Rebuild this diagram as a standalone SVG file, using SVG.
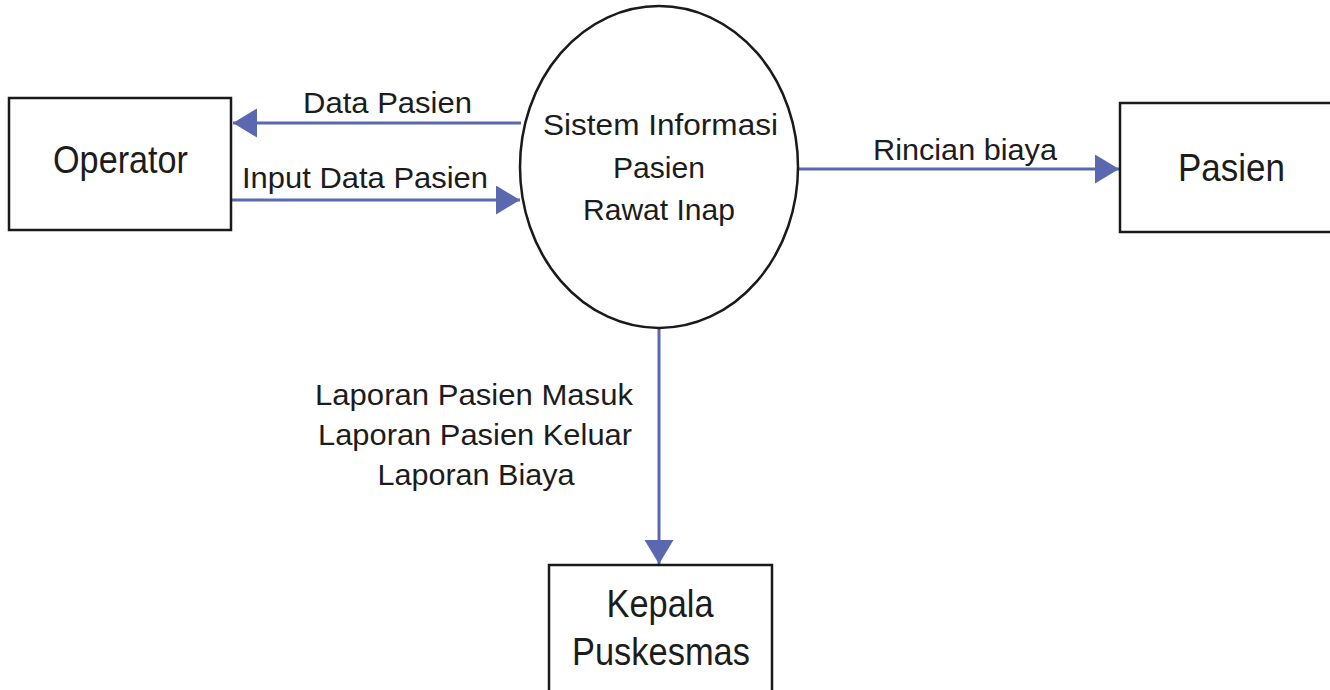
<svg xmlns="http://www.w3.org/2000/svg" width="1330" height="690" viewBox="0 0 1330 690">
  <style>
    .box { fill: #fff; stroke: #1a1a1a; stroke-width: 2.5; }
    .proc { fill: #fff; stroke: #1a1a1a; stroke-width: 2.5; }
    .flow { fill: none; stroke: #5a68b0; stroke-width: 3; }
    .t { font-family: "Liberation Sans", Arial, sans-serif; fill: #1c1c1c; text-anchor: middle; }
    .ent { font-size: 39px; }
    .pt { font-size: 30px; }
    .lbl { font-size: 30px; }
    .lap { font-size: 29px; }
  </style>
  <defs>
    <marker id="arr" markerUnits="userSpaceOnUse" markerWidth="26" markerHeight="30" refX="24" refY="14.5" orient="auto">
      <path d="M0,0 L24,14.5 L0,29 Z" fill="#5a68b0"/>
    </marker>
  </defs>
  <rect width="1330" height="690" fill="#fff"/>

  <g id="connectors">
    <line class="flow" x1="521" y1="123" x2="233" y2="123" marker-end="url(#arr)"/>
    <line class="flow" x1="231" y1="200" x2="520" y2="200" marker-end="url(#arr)"/>
    <line class="flow" x1="798" y1="169" x2="1119" y2="169" marker-end="url(#arr)"/>
    <line class="flow" x1="659" y1="328" x2="659" y2="564" marker-end="url(#arr)"/>
    <text class="t lbl" x="387.5" y="113" textLength="169" lengthAdjust="spacingAndGlyphs">Data Pasien</text>
    <text class="t lbl" x="365" y="188" textLength="246" lengthAdjust="spacingAndGlyphs">Input Data Pasien</text>
    <text class="t lbl" x="965" y="160" textLength="184" lengthAdjust="spacingAndGlyphs">Rincian biaya</text>
    <text class="t lap" x="474" y="405" textLength="318" lengthAdjust="spacingAndGlyphs">Laporan Pasien Masuk</text>
    <text class="t lap" x="475" y="445" textLength="314" lengthAdjust="spacingAndGlyphs">Laporan Pasien Keluar</text>
    <text class="t lap" x="476" y="485" textLength="197" lengthAdjust="spacingAndGlyphs">Laporan Biaya</text>
  </g>

  <g id="operator">
    <rect class="box" x="9" y="98" width="222" height="132"/>
    <text class="t ent" x="120.5" y="173" textLength="135" lengthAdjust="spacingAndGlyphs">Operator</text>
  </g>

  <g id="process">
    <ellipse class="proc" cx="659" cy="167" rx="139" ry="161"/>
    <text class="t pt" x="660.5" y="135" textLength="235" lengthAdjust="spacingAndGlyphs">Sistem Informasi</text>
    <text class="t pt" x="659" y="178" textLength="92" lengthAdjust="spacingAndGlyphs">Pasien</text>
    <text class="t pt" x="659" y="220" textLength="152" lengthAdjust="spacingAndGlyphs">Rawat Inap</text>
  </g>

  <g id="pasien">
    <rect class="box" x="1120" y="103" width="215" height="129"/>
    <text class="t ent" x="1231.5" y="181" textLength="107" lengthAdjust="spacingAndGlyphs">Pasien</text>
  </g>

  <g id="kepala">
    <rect class="box" x="549" y="565" width="223" height="140"/>
    <text class="t ent" x="660" y="617" textLength="107" lengthAdjust="spacingAndGlyphs">Kepala</text>
    <text class="t ent" x="661" y="665" textLength="178" lengthAdjust="spacingAndGlyphs">Puskesmas</text>
  </g>
</svg>
